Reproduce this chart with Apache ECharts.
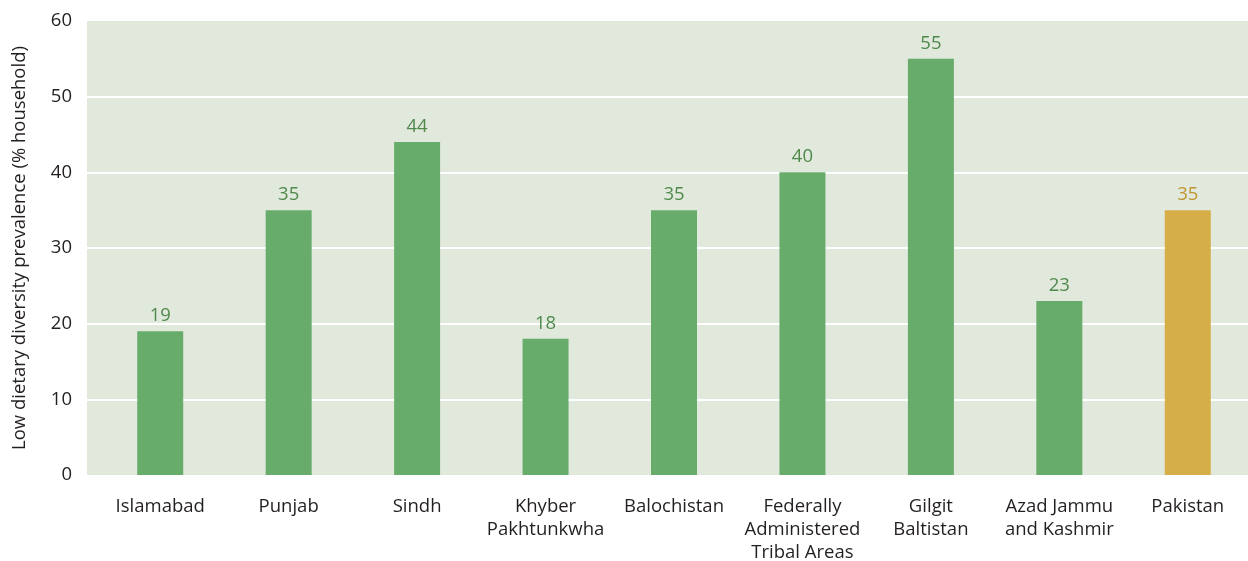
<!DOCTYPE html>
<html>
<head>
<meta charset="utf-8">
<script src="https://cdn.jsdelivr.net/npm/echarts@6/dist/echarts.min.js"></script>
<style>
  html, body { margin: 0; padding: 0; background: #ffffff; }
  #chart { width: 1248px; height: 561px; }
</style>
</head>
<body>
<div id="chart"></div>
<script>
// Low dietary diversity prevalence by region, % of households
const categories = [
  'Islamabad', 'Punjab', 'Sindh', 'Khyber\nPakhtunkwha', 'Balochistan',
  'Federally\nAdministered\nTribal Areas', 'Gilgit\nBaltistan', 'Azad Jammu\nand Kashmir', 'Pakistan'
];
const values = [19, 35, 44, 18, 35, 40, 55, 23, 35];
const nationalName = 'Pakistan';
const yTicks = [0, 10, 20, 30, 40, 50, 60];
const yTitle = 'Low dietary diversity prevalence (% household)';

const FONT = '"Open Sans", "Noto Sans", sans-serif';
const GREEN = '#68ac6b';
const GREEN_TEXT = '#4f8a4c';
const GOLD = '#d6ae48';
const GOLD_TEXT = '#bf9630';

const barData = values.map((v, i) => {
  const national = categories[i] === nationalName;
  return {
    value: v,
    itemStyle: { color: national ? GOLD : GREEN },
    label: { color: national ? GOLD_TEXT : GREEN_TEXT }
  };
});

const chart = echarts.init(document.getElementById('chart'), null, { renderer: 'canvas' });
chart.setOption({
  animation: false,
  grid: [
    // panel with background and gridlines
    { left: 87, right: 0, top: 21, bottom: 86, show: true, backgroundColor: '#e1e8dc', borderWidth: 0,
      containLabel: false, outerBoundsMode: 'none' },
    // bars
    { left: 96, right: -4, top: 21, bottom: 86, containLabel: false, outerBoundsMode: 'none' }
  ],
  xAxis: [
    { gridIndex: 0, type: 'value', min: 0, max: 1, show: false },
    {
      gridIndex: 1, type: 'category', data: categories,
      axisLine: { show: false }, axisTick: { show: false },
      axisLabel: {
        margin: 20, fontFamily: FONT, fontSize: 18.5, color: '#231f20',
        lineHeight: 23, interval: 0
      }
    }
  ],
  yAxis: [
    {
      gridIndex: 0, type: 'value', min: yTicks[0], max: yTicks[yTicks.length - 1], interval: 10,
      axisLine: { show: false }, axisTick: { show: false },
      axisLabel: { margin: 15, fontFamily: FONT, fontSize: 18.5, color: '#231f20' },
      splitLine: { show: true, showMinLine: false, showMaxLine: false, lineStyle: { color: '#ffffff', width: 2 } },
      name: yTitle, nameLocation: 'middle', nameGap: 58,
      nameTextStyle: { fontFamily: FONT, fontSize: 18.5, color: '#231f20' }
    },
    {
      gridIndex: 1, type: 'value', min: yTicks[0], max: yTicks[yTicks.length - 1], interval: 10,
      show: false, splitLine: { show: false }
    }
  ],
  series: [
    {
      type: 'bar', xAxisIndex: 1, yAxisIndex: 1,
      barWidth: 46,
      data: barData,
      label: {
        show: true, position: 'top', distance: 6,
        fontFamily: FONT, fontSize: 18.5
      }
    }
  ]
});
</script>
</body>
</html>
